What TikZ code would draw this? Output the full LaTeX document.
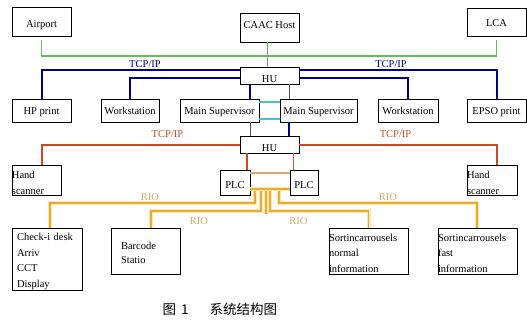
\documentclass[tikz,border=0pt]{standalone}
\usepackage{fontspec}
\setmainfont{Liberation Serif}
\newfontfamily\cjk{Noto Sans CJK SC}
\definecolor{navyline}{RGB}{0,0,140}
\definecolor{greenline}{RGB}{100,190,90}
\definecolor{cyanline}{RGB}{60,200,210}
\definecolor{redline}{RGB}{210,70,40}
\definecolor{redtext}{RGB}{190,80,40}
\definecolor{orangeline}{RGB}{235,170,50}
\definecolor{halo}{RGB}{252,232,175}
\definecolor{tanline}{RGB}{215,170,110}
\definecolor{riotext}{RGB}{215,170,100}
\definecolor{thinline}{RGB}{80,80,90}
\begin{document}
\begin{tikzpicture}[x=1pt,y=-1pt,
  font=\fontsize{10.5}{15.5}\selectfont,
  box/.style={draw=black,line width=0.8pt,inner sep=0pt,minimum width=#1},
  lbox/.style={draw=black,line width=0.8pt,inner ysep=0pt,align=left},
  base/.style={text height=#1,text depth=0pt},
  greenbus/.style={draw=greenline,line width=1.6pt},
  bluebus/.style={draw=navyline,line width=2pt},
  cyanbus/.style={draw=cyanline,line width=1.8pt},
  redbus/.style={draw=redline,line width=2pt},
  riobus/.style={draw=orangeline,line width=1.8pt,preaction={draw=halo,line width=4pt}},
  thin/.style={draw=thinline,line width=0.7pt},
  bluelabel/.style={text=navyline},
  redlabel/.style={text=redtext},
  riolabel/.style={text=riotext}]
\useasboundingbox (0,0) rectangle (527,321);

% first row
\node[box=59,minimum height=29,base=12pt] (airport) at (41.5,21.5) {Airport};
\node[box=59,minimum height=29,base=2pt] (caac) at (269.5,27.5) {CAAC Host};
\node[box=59,minimum height=28,base=10pt] (lca) at (496.5,22) {LCA};
\node[box=59,minimum height=17,base=14pt] (hu1) at (269.5,75.5) {HU};

% second row
\node[box=59,minimum height=23,base=7pt] (hp) at (41.5,110.5) {HP print};
\node[box=58,minimum height=23,base=7pt] (ws1) at (130,110.5) {Workstation};
\node[box=79,minimum height=23,base=8pt] (ms1) at (219.5,110.5) {Main Supervisor};
\node[box=77,minimum height=23,base=8pt] (ms2) at (318.5,110.5) {Main Supervisor};
\node[box=60,minimum height=23,base=7pt] (ws2) at (408,110.5) {Workstation};
\node[box=59,minimum height=23,base=7pt] (epso) at (496.5,110.5) {EPSO print};

% third row
\node[box=59,minimum height=17,base=14pt] (hu2) at (269.5,144.5) {HU};
\node[lbox,text width=49,inner xsep=0pt,minimum height=30,text height=8pt,text depth=12pt,
  font=\fontsize{10.5}{16}\selectfont] (hs1) at (36.5,180) {Hand\\scanner};
\node[lbox,text width=50,inner xsep=0pt,minimum height=30,text height=8pt,text depth=12pt,
  font=\fontsize{10.5}{16}\selectfont] (hs2) at (492,180) {Hand\\scanner};
\node[box=30,minimum height=25,base=11pt] (plc1) at (235,182.5) {PLC};
\node[box=28,minimum height=25,base=11pt] (plc2) at (304,182.5) {PLC};

% bottom row
\node[lbox,text width=60,inner xsep=5pt,minimum height=62,text height=8pt,text depth=45pt] (chk) at (47,259)
  {\mbox{Check-i desk}\\Arriv\\CCT\\Display};
\node[lbox,text width=59,inner xsep=5pt,minimum height=46,text height=8pt,text depth=12pt,
  font=\fontsize{10.5}{14.5}\selectfont] (bar) at (145.5,251)
  {\hspace*{5pt}Barcode\\\hspace*{5pt}Statio};
\node[lbox,text width=79,inner xsep=0pt,minimum height=46,text height=8pt,text depth=28pt] (srtn) at (368.5,251)
  {\mbox{Sortincarrousels}\\normal\\information};
\node[lbox,text width=79,inner xsep=0pt,minimum height=46,text height=8pt,text depth=28pt] (srtf) at (477.5,251)
  {\mbox{Sortincarrousels}\\fast\\information};

% helper coordinates
\coordinate (c250) at (250,0);
\coordinate (c289) at (289,0);
\coordinate (c247) at (247,0);
\coordinate (c293) at (293,0);
\coordinate (c267) at (267,0);
\coordinate (gy) at (0,56);
\coordinate (b1) at (255,189);
\coordinate (b2) at (261,189);
\coordinate (b3) at (266,189);
\coordinate (b4) at (270,189);
\coordinate (b5) at (279,189);
\coordinate (b3end) at (266,214);

% green bus
\draw[greenbus] ([yshift=-4pt]airport.south) -- (airport.south |- gy) -| ([yshift=-4pt]lca.south);
\draw[thin,draw=greenline!70!gray] (caac.south -| c267) -- (hu1.north -| c267);

% blue TCP/IP bus
\draw[bluebus] ([yshift=5.5pt]hu1.west) -| (hp.north);
\draw[bluebus] ([yshift=-2.5pt]hu1.west) -| (ws1.north);
\draw[bluebus] ([yshift=5.5pt]hu1.east) -| (epso.north);
\draw[bluebus] ([yshift=-2.5pt]hu1.east) -| (ws2.north);
\draw[bluebus] (hu1.south -| c250) -- (ms1.north -| c250);
\draw[thin] (hu1.south -| c289) -- (ms2.north -| c289);
\draw[cyanbus] ([yshift=8.5pt]ms1.east) -- ([yshift=8.5pt]ms2.west);
\draw[cyanbus] ([yshift=-8.5pt]ms1.east) -- ([yshift=-8.5pt]ms2.west);
\draw[thin] (ms1.south -| c250) -- (hu2.north -| c250);
\draw[bluebus] (ms2.south -| c289) -- (hu2.north -| c289);

% red TCP/IP bus
\draw[redbus] (hu2.west) -| ([xshift=5pt]hs1.north);
\draw[redbus] (hu2.east) -| ([xshift=5pt]hs2.north);
\draw[redbus] (hu2.south -| c247) -- (plc1.north -| c247);
\draw[thin,draw=redline!60!gray] (hu2.south -| c293) -- (plc2.north -| c293);

% RIO bus
\draw[draw=tanline,line width=1.5pt] ([yshift=9.5pt]plc1.east) -- ([yshift=9.5pt]plc2.west);
\draw[riobus] (b1) -- ++(0,14) -| ([xshift=3pt]chk.north);
\draw[riobus] (b2) -- ++(0,22) -| ([xshift=5.5pt]bar.north);
\draw[riobus] (b3) -- (b3end);
\draw[riobus] (b4) -- ++(0,22) -| (srtn.north);
\draw[riobus] (b5) -- ++(0,14) -| ([xshift=-0.5pt]srtf.north);
\draw[riobus] ([yshift=-6.5pt]plc1.east) -- ([yshift=-6.5pt]plc2.west);

% labels
\node[bluelabel] (t1) at (145,64) {TCP/IP};
\node[bluelabel] (t2) at (391,64) {TCP/IP};
\node[redlabel] (t3) at (167.5,134) {TCP/IP};
\node[redlabel] (t4) at (395.5,134) {TCP/IP};
\node[riolabel] (r1) at (150,197) {RIO};
\node[riolabel] (r2) at (199,221) {RIO};
\node[riolabel] (r3) at (298.5,221) {RIO};
\node[riolabel] (r4) at (388,197) {RIO};

% caption
\node[anchor=west,inner sep=0pt,font=\cjk\fontsize{13.5}{14}\selectfont] (cap) at (162.5,309)
  {图\hspace{5pt}1\hspace{21pt}系统结构图};
\end{tikzpicture}
\end{document}
